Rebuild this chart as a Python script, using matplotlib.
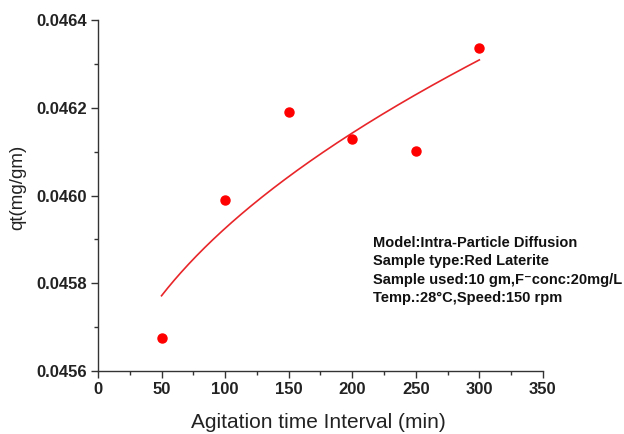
import numpy as np
import matplotlib.pyplot as plt
from matplotlib.ticker import MultipleLocator, FormatStrFormatter

plt.rcParams['font.family'] = ['Liberation Sans', 'DejaVu Sans']

time_min = [50, 100, 150, 200, 250, 300]
qt = [0.045676, 0.045990, 0.046190, 0.046128, 0.046101, 0.046336]

info_lines = [
    'Model:Intra-Particle Diffusion',
    'Sample type:Red Laterite',
    'Sample used:10 gm,F\u207bconc:20mg/L',
    'Temp.:28\u00b0C,Speed:150 rpm',
]

# intra-particle diffusion fit: qt = k*sqrt(t) + C
k, c = np.polyfit(np.sqrt(time_min), qt, 1)
t_fit = np.linspace(min(time_min), max(time_min), 200)
q_fit = k * np.sqrt(t_fit) + c

fig = plt.figure(figsize=(6.24, 4.34), dpi=100)
ax = fig.add_axes([0.157, 0.145, 0.713, 0.809])

ax.plot(t_fit, q_fit, color='#e8262a', lw=1.2)
ax.plot(time_min, qt, 'o', color='#ff0000', ms=6.5, mec='#ff0000')

ax.set_xlim(0, 350)
ax.set_ylim(0.0456, 0.0464)
ax.xaxis.set_major_locator(MultipleLocator(50))
ax.xaxis.set_minor_locator(MultipleLocator(25))
ax.yaxis.set_major_locator(MultipleLocator(0.0002))
ax.yaxis.set_minor_locator(MultipleLocator(0.0001))
ax.yaxis.set_major_formatter(FormatStrFormatter('%.4f'))

for s in ['top', 'right']:
    ax.spines[s].set_visible(False)
for s in ['left', 'bottom']:
    ax.spines[s].set_color('#333333')
    ax.spines[s].set_linewidth(1.0)

ax.tick_params(which='major', direction='out', length=5, width=1, color='#333333',
               labelsize=12, labelcolor='#222222', pad=3)
ax.tick_params(which='minor', direction='out', length=3, width=1, color='#333333')
for lab in ax.get_xticklabels() + ax.get_yticklabels():
    lab.set_fontweight('bold')

fig.text(318 / 624, 1 - 428 / 434, 'Agitation time Interval (min)', fontsize=15,
         color='#222222', ha='center', va='baseline')
fig.text(18 / 624, 1 - 187 / 434, 'qt(mg/gm)', fontsize=13.5, color='#222222',
         rotation=90, ha='center', va='center')

for i, line in enumerate(info_lines):
    ax.text(0.618, 0.3647 - i * 0.0521, line, transform=ax.transAxes,
            fontsize=10.5, fontweight='bold', color='#111111', va='center')

fig.savefig('out.png', dpi=100, facecolor='white')
